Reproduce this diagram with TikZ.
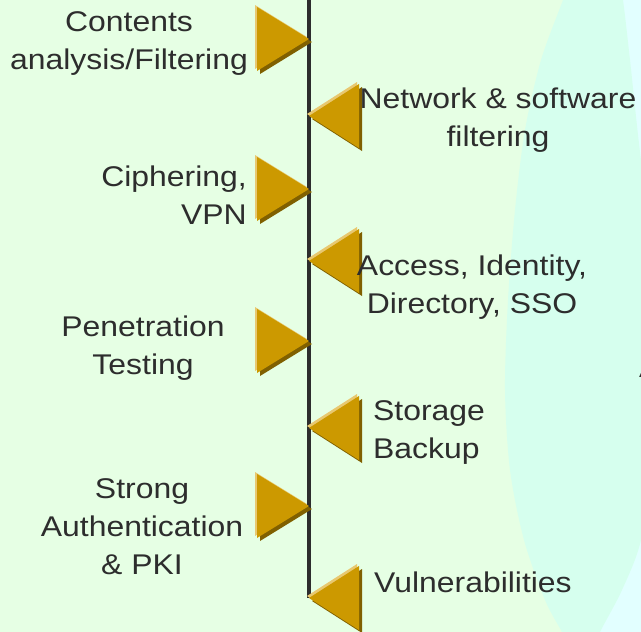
\documentclass[tikz,border=0pt]{standalone}
\usepackage{fontspec}
\setmainfont[FakeStretch=1.12]{Liberation Sans}
\definecolor{bggreen}{RGB}{230,255,228}
\definecolor{bgmint}{RGB}{214,255,238}
\definecolor{bgcyan}{RGB}{226,255,255}
\definecolor{gold}{RGB}{204,153,0}
\definecolor{goldlight}{RGB}{232,200,112}
\definecolor{golddark}{RGB}{128,96,0}
\definecolor{inkgray}{RGB}{45,45,45}
\tikzset{
  lbl/.style={inner sep=0pt, text=inkgray, font=\fontsize{28.5}{38}\selectfont},
  spine/.style={line width=4pt, draw=inkgray},
}
\begin{document}
\begin{tikzpicture}[x=1pt,y=-1pt]
    \useasboundingbox (0,0) rectangle (641,632);
    \clip (0,0) rectangle (641,632);
    % background
    \fill[bggreen] (0,0) rectangle (641,632);
    \fill[bgcyan] (585,-20) rectangle (670,660);
    \fill[bgmint] plot[smooth] coordinates {(568,-15) (563,0) (541,60) (525,130)
        (515,210) (508,300) (505,390) (510,470) (524,540) (545,600) (562,632) (568,645)}
      -- plot[smooth] coordinates {(596,645) (600,632) (622,590) (641,540) (655,450)
        (660,350) (655,250) (641,160) (630,60) (623,0) (619,-15)} -- cycle;
    % spine
    \coordinate (top) at (309,0);
    \coordinate (bottom) at (309,598);
    \draw[spine] (top) -- (bottom);
    % flags pointing right
    \foreach \ty in {39,189,341,506} {
      \fill[golddark] (260,\ty-29) -- (312,\ty+3) -- (260,\ty+35) -- cycle;
      \fill[goldlight] (255,\ty-34) -- (307,\ty-2) -- (255,\ty+30) -- cycle;
      \fill[gold] (257,\ty-32) -- (309,\ty) -- (257,\ty+32) -- cycle;
    }
    % flags pointing left
    \foreach \ty in {116,261,428,598} {
      \fill[golddark] (362,\ty-29) -- (312,\ty+3) -- (362,\ty+35) -- cycle;
      \fill[goldlight] (357,\ty-34) -- (307,\ty-2) -- (357,\ty+30) -- cycle;
      \fill[gold] (359,\ty-32) -- (309,\ty) -- (359,\ty+32) -- cycle;
    }
    % texts
    \node[lbl, align=center] (contents) at (129,44) {Contents\\analysis/Filtering};
    \node[lbl, align=center] (network) at (498,120) {Network \& software\\filtering};
    \node[lbl, align=right, anchor=east] (ciphering) at (247,195) {Ciphering,\\VPN};
    \node[lbl, align=center] (access) at (472,287) {Access, Identity,\\Directory, SSO};
    \node[lbl, align=center] (penetration) at (143,348) {Penetration\\Testing};
    \node[lbl, align=left, anchor=west] (storage) at (373,433) {Storage\\Backup};
    \node[lbl, align=center] (strong) at (142,527) {Strong\\Authentication\\\& PKI};
    \node[lbl, anchor=west] (vuln) at (374,582) {Vulnerabilities};
    \node[lbl, anchor=base west] (cut) at (639,377) {A};
\end{tikzpicture}
\end{document}
